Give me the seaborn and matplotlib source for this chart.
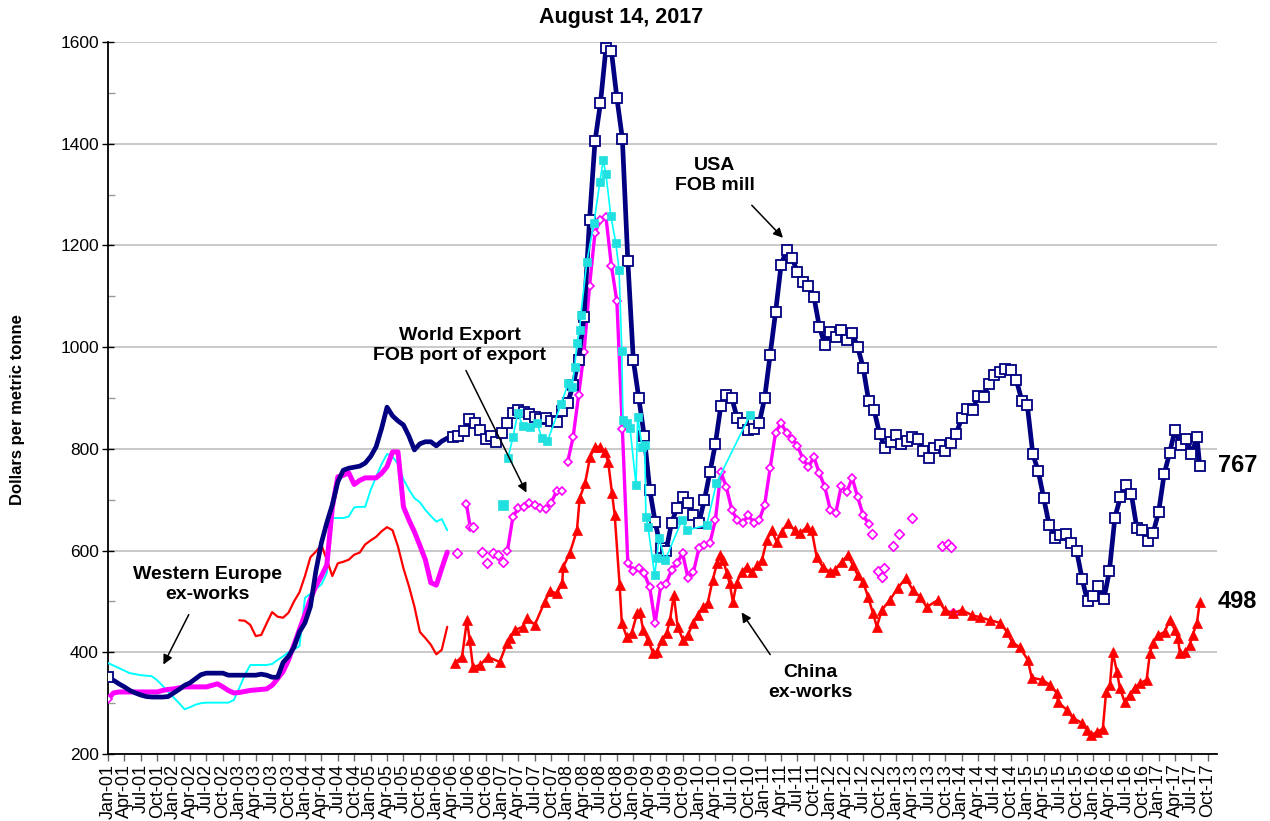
import numpy as np
import matplotlib
matplotlib.use("Agg")
import matplotlib.pyplot as plt
import seaborn as sns

sns.set_theme(style="white")
plt.rcParams['font.family'] = ['Liberation Sans', 'DejaVu Sans']
plt.rcParams.update({"text.color": "black", "axes.labelcolor": "black",
                     "xtick.color": "black", "ytick.color": "black"})

# ---------------- data (x = months since Jan-2001) ----------------
tick_labels = [f"{m}-{y:02d}" for y in range(1, 18) for m in ["Jan", "Apr", "Jul", "Oct"]]

# USA FOB mill (monthly readings, Jan-01 .. Jul-17) + last weekly point
usa_vals = [
    351, 345, 338, 332, 325, 320, 316, 313, 312, 312, 312, 313,
    320, 327, 335, 340, 348, 356, 359, 359, 359, 359, 355, 355,
    355, 355, 355, 355, 357, 355, 351, 351, 380, 392, 410, 440,
    458, 490, 560, 615, 655, 690, 735, 758, 762, 764, 766, 772,
    785, 804, 840, 882, 865, 855, 847, 825, 798, 810, 814, 814,
    806, 815, 821, 823, 825, 835, 858, 850, 838, 820, 825, 814,
    831, 850, 870, 876, 872, 868, 862, 858, 860, 855, 853, 875,
    890, 925, 975, 1060, 1250, 1405, 1480, 1588, 1582, 1490, 1410, 1170,
    975, 900, 825, 720, 656, 605, 600, 655, 684, 705, 694, 670,
    655, 700, 754, 810, 885, 905, 900, 860, 850, 838, 840, 850,
    900, 984, 1069, 1161, 1192, 1175, 1148, 1128, 1120, 1099, 1040, 1005,
    1030, 1020, 1034, 1015, 1028, 1000, 960, 895, 876, 830, 802, 814,
    827, 810, 815, 823, 820, 795, 782, 802, 808, 796, 812, 830,
    860, 878, 876, 904, 902, 928, 945, 952, 958, 955, 935, 895,
    886, 790, 756, 703, 650, 625, 630, 632, 615, 600, 545, 500,
    510, 530, 505, 560, 665, 705, 728, 712, 645, 640, 618, 635,
    676, 750, 792, 838, 808, 820, 790, 823,
]
usa_last_t, usa_last_v = 199.5, 767

# World Export FOB port of export
world_monthly = [
    308, 320, 322, 322, 322, 322, 322, 322, 322, 322, 325, 327,
    328, 330, 332, 332, 332, 332, 332, 335, 338, 332, 325, 320,
    321, 323, 325, 326, 327, 328, 335, 348, 362, 385, 415, 445,
    475, 505, 530, 550, 572, 685, 745, 748, 753, 730, 738, 743,
    743, 743, 752, 765, 794, 794, 686, 660, 637, 610, 582, 537,
    532, 565, 597,
]
world_seg1_t = [65.5, 66.2]
world_seg1_v = [692, 646]
world_seg2_start = 73
world_seg2_v = [600, 666, 684, 686, 693, 690, 684, 682, 694, 718, 717]
world_seg3_start = 84
world_seg3_v = [
    774, 823, 905, 990, 1120, 1225, 1250, 1256, 1160, 1090, 840, 575,
    560, 565, 555, 528, 458, 530, 535, 562, 575, 595, 546, 558,
    605, 611, 615, 660, 754, 725, 680, 660, 654, 670, 655, 660,
    690, 762, 832, 851, 832, 820, 806, 780, 764, 784, 752, 725,
    680, 674, 727, 715, 743, 705, 670, 652,
]
world_iso_t = [63.8, 66.7, 68.3, 69.2, 70.3, 71.3, 72.2, 139.6, 140.7, 141.4,
               141.8, 143.4, 144.5, 146.9, 152.4, 153.5, 154.0, 154.4]
world_iso_v = [595, 646, 597, 576, 595, 591, 578, 633, 560, 548,
               566, 609, 633, 664, 609, 613, 607, 477]

# Western Europe ex-works
weu_monthly = [
    379, 374, 369, 364, 359, 357, 355, 354, 353, 345, 334, 322,
    311, 300, 288, 292, 297, 300, 301, 301, 301, 301, 301, 306,
    330, 355, 375, 375, 375, 375, 377, 385, 392, 400, 406, 412,
    507, 515, 525, 533, 556, 664, 664, 664, 667, 685, 686, 686,
    719, 745, 770, 790, 785, 770, 740, 720, 703, 695, 680, 668,
    657, 662, 640,
]
weu_iso_t = [72.2]
weu_iso_v = [690]
weu_wk_t = [73.1, 74.0, 74.9, 75.8, 77.1, 78.4, 79.3, 80.3, 82.8, 84.1, 84.8, 85.3,
            85.7, 86.2, 86.4, 87.5, 88.8, 89.9, 90.5, 91.0, 91.9, 92.8, 93.4, 93.9,
            94.1, 94.8, 95.4, 96.5, 96.8, 97.6, 98.1, 98.3, 98.7, 99.9, 100.3, 100.7,
            101.8, 104.9, 105.8, 109.4, 111.2, 117.3]
weu_wk_v = [782, 823, 870, 845, 843, 851, 821, 815, 888, 929, 922, 961,
            1008, 1034, 1063, 1167, 1244, 1325, 1368, 1340, 1258, 1205, 1152, 992,
            857, 851, 841, 729, 863, 804, 808, 666, 646, 552, 585, 625,
            581, 660, 640, 650, 733, 866]

# China ex-works
china_monthly_start = 24
china_monthly = [
    463, 462, 454, 432, 434, 457, 479, 470, 468, 478, 500, 518,
    550, 587, 598, 611, 582, 550, 575, 578, 582, 592, 596, 612,
    620, 627, 638, 646, 640, 608, 565, 530, 490, 440, 428, 415,
    396, 405, 450,
]
china_wk_t = [
    63.4, 64.7, 65.6, 66.1, 66.7, 68.0, 69.4, 71.6, 72.9, 73.5, 74.4, 75.8,
    76.6, 78.0, 79.8, 80.8, 82.0, 83.0, 83.2, 84.4, 85.7, 86.2, 87.2, 88.1,
    89.0, 89.9, 90.8, 91.4, 92.1, 92.6, 93.5, 93.9, 94.8, 95.7, 96.7, 97.2,
    97.8, 98.7, 99.6, 100.3, 101.2, 102.1, 102.7, 103.4, 104.1, 105.1, 106.0, 106.9,
    107.8, 108.7, 109.6, 110.5, 111.3, 111.8, 112.4, 113.1, 113.6, 114.2, 114.9, 115.8,
    116.7, 117.7, 118.6, 119.5, 120.4, 121.3, 122.2, 123.1, 124.2, 125.5, 126.4, 127.7,
    128.6, 129.5, 130.6, 131.9, 132.8, 134.1, 135.2, 136.1, 137.0, 138.0, 138.9, 139.8,
    140.5, 141.4, 142.9, 144.3, 145.8, 147.1, 148.4, 149.6, 151.7, 152.9, 154.4, 156.0,
    157.9, 159.3, 161.2, 163.0, 164.3, 165.2, 166.6, 168.1, 168.8, 170.7, 172.1, 173.4,
    173.6, 175.2, 176.3, 178.0, 178.9, 179.6, 180.7, 181.8, 182.4, 183.1, 183.6, 184.4,
    184.9, 185.8, 186.7, 187.6, 188.6, 189.8, 190.4, 190.9, 191.9, 193.1, 194.0, 195.0,
    195.5, 195.9, 196.8, 197.7, 198.2, 199.0, 199.5,
]
china_wk_v = [
    379, 391, 463, 424, 371, 375, 391, 381, 418, 428, 444, 450,
    467, 454, 499, 520, 516, 536, 568, 595, 640, 703, 733, 784,
    804, 804, 794, 775, 713, 670, 532, 458, 430, 438, 477, 479,
    444, 424, 399, 401, 424, 438, 463, 513, 450, 424, 434, 458,
    473, 489, 497, 542, 575, 591, 581, 556, 536, 499, 537, 558,
    568, 558, 571, 581, 621, 640, 617, 637, 654, 640, 634, 646,
    640, 588, 568, 558, 562, 578, 591, 572, 552, 538, 509, 477,
    450, 483, 503, 526, 546, 522, 509, 489, 503, 483, 477, 483,
    473, 469, 463, 458, 440, 420, 410, 385, 350, 346, 336, 320,
    302, 287, 271, 261, 247, 237, 243, 250, 322, 336, 400, 361,
    330, 302, 316, 330, 339, 346, 398, 418, 434, 440, 463, 444,
    428, 398, 400, 414, 434, 458, 498,
]

# ---------------- styling ----------------
NAVY = "#000080"
MAG = "#ff00ff"
CYAN = "#00ffff"
CYAN_M = "#22e0e0"
RED = "#ff0000"

fig = plt.figure(figsize=(12.7, 8.21), dpi=100)
ax = fig.add_axes([0.085, 0.0816, 0.873, 0.8672])


def line(t, v, **kw):
    kw.setdefault("legend", False)
    sns.lineplot(x=np.asarray(t, float), y=np.asarray(v, float), ax=ax,
                 sort=False, estimator=None, **kw)


# Western Europe (cyan)
line(np.arange(len(weu_monthly)), weu_monthly, color=CYAN, linewidth=1.4, zorder=3)
line(weu_wk_t, weu_wk_v, color=CYAN, linewidth=1.2, marker="s", markersize=6.3,
     markerfacecolor=CYAN_M, markeredgecolor=CYAN_M, markeredgewidth=0.5, zorder=6)
sns.scatterplot(x=weu_iso_t, y=weu_iso_v, ax=ax, marker="s", s=42, color=CYAN_M,
                edgecolor=CYAN_M, linewidth=0.5, zorder=6, legend=False)

# World export (magenta)
line(np.arange(len(world_monthly)), world_monthly, color=MAG, linewidth=3.6,
     marker="D", markersize=4.5, markerfacecolor="white", markeredgecolor=MAG,
     markeredgewidth=1.2, markevery=[0], zorder=4)
mk = dict(marker="D", markersize=4.4, markerfacecolor="white", markeredgecolor=MAG,
          markeredgewidth=1.2)
line(world_seg1_t, world_seg1_v, color=MAG, linewidth=2.4, zorder=4, **mk)
line(world_seg2_start + np.arange(len(world_seg2_v)), world_seg2_v, color=MAG,
     linewidth=2.4, zorder=4, **mk)
line(world_seg3_start + np.arange(len(world_seg3_v)), world_seg3_v, color=MAG,
     linewidth=2.4, zorder=4, **mk)
sns.scatterplot(x=world_iso_t, y=world_iso_v, ax=ax, marker="D", s=24,
                facecolor="white", edgecolor=MAG, linewidth=1.2, zorder=4, legend=False)

# China (red)
line(china_monthly_start + np.arange(len(china_monthly)), china_monthly, color=RED,
     linewidth=1.6, zorder=3)
line(china_wk_t, china_wk_v, color=RED, linewidth=1.8, marker="^", markersize=7,
     markerfacecolor=RED, markeredgecolor=RED, markeredgewidth=0.5, zorder=5)

# USA (navy)
usa_t = list(range(len(usa_vals))) + [usa_last_t]
usa_v = usa_vals + [usa_last_v]
line(usa_t, usa_v, color=NAVY, linewidth=3.4, marker="s", markersize=6.5,
     markerfacecolor="white", markeredgecolor=NAVY, markeredgewidth=1.3,
     markevery=[0] + list(range(63, len(usa_t))), zorder=5.5)

# ---------------- axes ----------------
ax.set_xlim(0, 202.6)
ax.set_ylim(200, 1600)
ax.set_yticks(range(200, 1601, 200))
ax.set_yticks(range(300, 1600, 200), minor=True)
ax.set_xticks(np.arange(0, 3 * len(tick_labels), 3))
ax.set_xticklabels(tick_labels, rotation=90, fontsize=13)
ax.tick_params(axis="y", which="major", labelsize=12.5, direction="inout", length=9,
               width=1, color="black", left=True, pad=2)
ax.tick_params(axis="y", which="minor", direction="in", length=5, width=1,
               color="#999999", left=True)
ax.tick_params(axis="x", which="major", direction="out", length=5, width=1,
               color="#666666", bottom=True, pad=2)
ax.grid(axis="y", which="major", color="#c0c0c0", linewidth=1.2)
ax.grid(axis="x", visible=False)
for s in ["top", "right"]:
    ax.spines[s].set_visible(False)
for s in ["left", "bottom"]:
    ax.spines[s].set_color("black")
    ax.spines[s].set_linewidth(1.3)
ax.set_xlabel("")
ax.set_ylabel("")

fig.text(18 / 1270, 1 - 410 / 821, "Dollars per metric tonne", rotation=90,
         fontsize=12, fontweight="bold", ha="center", va="center", color="black")
fig.text(621 / 1270, 1 - 17 / 821, "August 14, 2017", fontsize=15.5,
         fontweight="bold", ha="center", va="center", color="black")

arrow = dict(arrowstyle="-|>", color="black", lw=1.1, mutation_scale=14)
txt = dict(fontsize=14, fontweight="bold", ha="center", va="center", linespacing=1.25,
           color="black")
ax.annotate("", xy=(123.7, 1211), xytext=(117.3, 1283), arrowprops=arrow, zorder=8)
ax.text(110.9, 1338, "USA\nFOB mill", **txt)
ax.annotate("", xy=(76.7, 709), xytext=(65.2, 959), arrowprops=arrow, zorder=8)
ax.text(64.3, 1004, "World Export\nFOB port of export", **txt)
ax.annotate("", xy=(9.9, 371), xytext=(15.0, 479), arrowprops=arrow, zorder=8)
ax.text(18.2, 534, "Western Europe\nex-works", **txt)
ax.annotate("", xy=(115.5, 483), xytext=(121.3, 391), arrowprops=arrow, zorder=8)
ax.text(128.3, 340, "China\nex-works", **txt)

ax.text(202.8, 768, "767", fontsize=17, fontweight="bold", ha="left", va="center",
        clip_on=False, color="black")
ax.text(202.8, 499, "498", fontsize=17, fontweight="bold", ha="left", va="center",
        clip_on=False, color="black")

fig.savefig("out.png", dpi=100)
